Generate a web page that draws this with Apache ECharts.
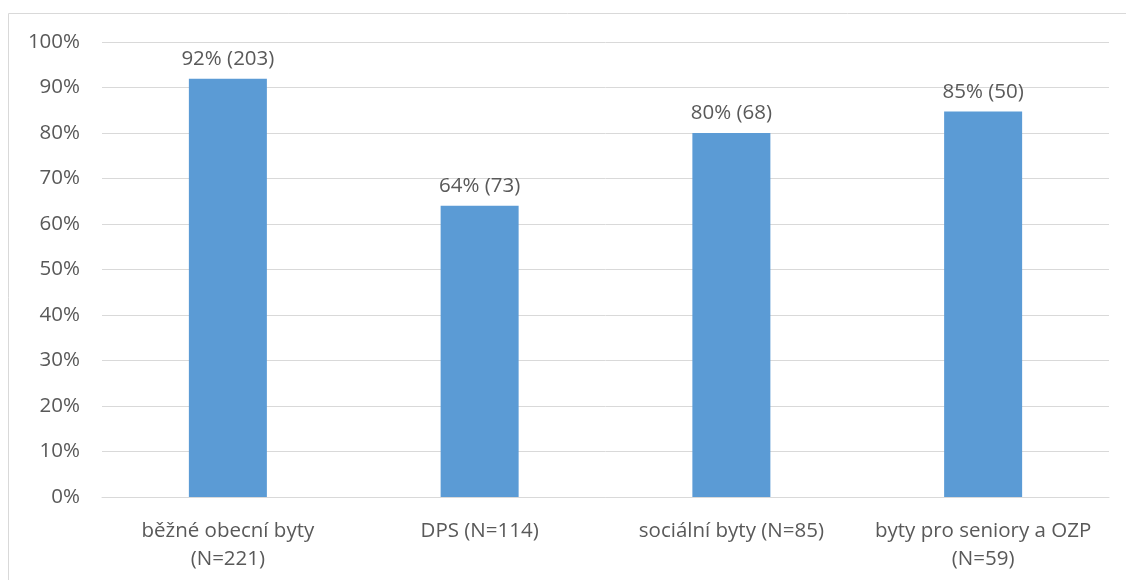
<!DOCTYPE html>
<html>
<head>
<meta charset="utf-8">
<script src="https://cdn.jsdelivr.net/npm/echarts@6/dist/echarts.min.js"></script>
<style>
  html, body { margin: 0; padding: 0; background: #fff; }
  #chart { width: 1126px; height: 580px; }
</style>
</head>
<body>
<div id="chart"></div>
<script>
// kategorie a hodnoty
const categories = ['běžné obecní byty\n(N=221)', 'DPS (N=114)', 'sociální byty (N=85)', 'byty pro seniory a OZP\n(N=59)']
const shares = [91.9, 64.0, 80.0, 84.7]
const counts = [203, 73, 68, 50]
const shareLabels = ['92%', '64%', '80%', '85%']

const textColor = '#595959'
const font = 'Open Sans'
const fontSize = 20.5

const chart = echarts.init(document.getElementById('chart'))
const option = {
  animation: false,
  textStyle: { fontFamily: font },
  graphic: [
    {
      type: 'rect',
      shape: { x: 8.5, y: 13.5, width: 1130, height: 600 },
      style: { fill: 'none', stroke: '#d9d9d9', lineWidth: 1 }
    }
  ],
  grid: { left: 102, right: 17, top: 42, bottom: 83 },
  xAxis: {
    type: 'category',
    data: categories,
    axisTick: { show: false },
    axisLine: { lineStyle: { color: '#d9d9d9', width: 1 } },
    axisLabel: {
      color: textColor,
      fontSize: fontSize,
      fontFamily: font,
      lineHeight: 28,
      margin: 20,
      interval: 0
    }
  },
  yAxis: {
    type: 'value',
    min: 0,
    max: 100,
    interval: 10,
    axisLine: { show: false },
    axisTick: { show: false },
    splitLine: { lineStyle: { color: '#d9d9d9', width: 1 } },
    axisLabel: {
      color: textColor,
      fontSize: fontSize,
      fontFamily: font,
      margin: 22,
      formatter: v => v + '%'
    }
  },
  series: [
    {
      type: 'bar',
      data: shares,
      barWidth: 78,
      itemStyle: { color: '#5b9bd5' },
      label: {
        show: true,
        position: 'top',
        distance: 9,
        color: textColor,
        fontSize: fontSize,
        fontFamily: font,
        formatter: p => shareLabels[p.dataIndex] + ' (' + counts[p.dataIndex] + ')'
      }
    }
  ]
}
chart.setOption(option)
</script>
</body>
</html>
